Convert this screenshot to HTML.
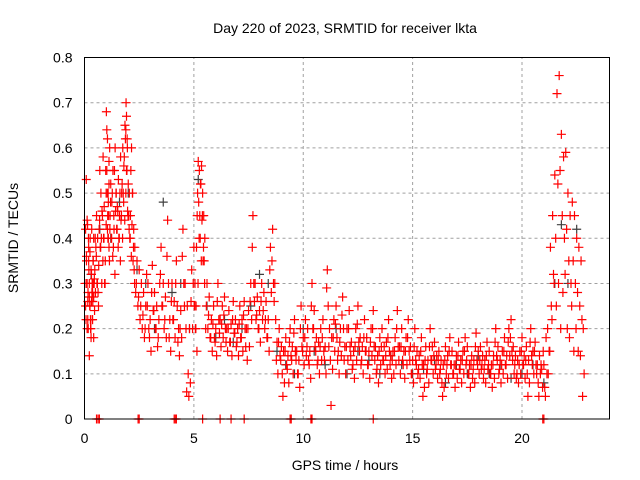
<!DOCTYPE html>
<html><head><meta charset="utf-8"><style>
body{margin:0;background:#fff;}
svg{display:block;font-family:"Liberation Sans",sans-serif;}
</style></head><body>
<svg id="chart" width="640" height="480">
<text x="345" y="33" text-anchor="middle" font-size="14">Day 220 of 2023, SRMTID for receiver lkta</text>
<text x="345" y="470" text-anchor="middle" font-size="14">GPS time / hours</text>
<text x="18" y="238" text-anchor="middle" font-size="14" transform="rotate(-90 18 238)">SRMTID / TECUs</text>
<g id="grid"></g>
<g id="grey"></g>
<g id="red"></g>
<rect x="84.5" y="57.5" width="525" height="361.5" fill="none" stroke="#000"/>
<g id="ticks"></g>
</svg>
<script>
const xTicks=[0,5,10,15,20];
const yTicks=[0,0.1,0.2,0.3,0.4,0.5,0.6,0.7,0.8];
const yTickLabels=["0","0.1","0.2","0.3","0.4","0.5","0.6","0.7","0.8"];
const redT=[0.05,0.08,0.1,0.12,0.15,0.18,0.2,0.22,0.25,0.28,0.3,0.33,0.35,0.38,0.4,0.42,0.45,0.5,0.55,0.6,0.65,0.7,0.75,0.8,0.85,0.9,0.95,1.0,1.02,1.05,1.08,1.1,1.12,1.15,1.2,1.25,1.3,1.35,1.4,1.45,1.5,1.55,1.6,1.65,1.7,1.75,1.8,1.85,1.9,1.92,1.95,2.0,2.05,2.1,2.15,2.2,2.25,2.3,2.4,2.5,2.6,2.7,2.8,2.9,3.0,3.1,3.2,3.3,3.4,3.5,3.6,3.7,3.8,3.9,4.0,4.1,4.2,4.3,4.4,4.5,4.6,4.7,4.8,4.9,5.0,5.05,5.1,5.15,5.2,5.25,5.3,5.35,5.4,5.45,5.5,5.6,5.7,5.8,5.9,6.0,6.1,6.2,6.3,6.4,6.5,6.6,6.7,6.8,6.9,7.0,7.1,7.2,7.3,7.4,7.5,7.6,7.7,7.8,7.9,8.0,8.1,8.2,8.3,8.4,8.5,8.6,8.7,8.8,8.9,9.0,9.1,9.2,9.3,9.4,9.5,9.6,9.7,9.8,9.9,10.0,10.1,10.2,10.3,10.4,10.5,10.6,10.7,10.8,10.9,11.0,11.1,11.2,11.3,11.4,11.5,11.6,11.7,11.8,11.9,12.0,12.1,12.2,12.3,12.4,12.5,12.6,12.7,12.8,12.9,13.0,13.1,13.2,13.3,13.4,13.5,13.6,13.7,13.8,13.9,14.0,14.1,14.2,14.3,14.4,14.5,14.6,14.7,14.8,14.9,15.0,15.1,15.2,15.3,15.4,15.5,15.6,15.7,15.8,15.9,16.0,16.1,16.2,16.3,16.4,16.5,16.6,16.7,16.8,16.9,17.0,17.1,17.2,17.3,17.4,17.5,17.6,17.7,17.8,17.9,18.0,18.1,18.2,18.3,18.4,18.5,18.6,18.7,18.8,18.9,19.0,19.1,19.2,19.3,19.4,19.5,19.6,19.7,19.8,19.9,20.0,20.1,20.2,20.3,20.4,20.5,20.6,20.7,20.8,20.9];
const redA=[0.25,0.53,0.3,0.44,0.22,0.4,0.33,0.27,0.37,0.2,0.18,0.42,0.3,0.26,0.35,0.4,0.31,0.28,0.45,0.4,0.34,0.55,0.5,0.46,0.58,0.47,0.35,0.68,0.64,0.62,0.5,0.45,0.57,0.6,0.52,0.48,0.55,0.42,0.6,0.5,0.47,0.53,0.45,0.58,0.5,0.6,0.56,0.65,0.7,0.67,0.62,0.52,0.5,0.45,0.6,0.5,0.42,0.38,0.35,0.33,0.3,0.28,0.25,0.3,0.22,0.34,0.28,0.25,0.22,0.38,0.3,0.27,0.44,0.22,0.3,0.26,0.35,0.2,0.24,0.42,0.3,0.25,0.2,0.33,0.38,0.3,0.25,0.45,0.57,0.55,0.52,0.56,0.5,0.45,0.4,0.3,0.27,0.22,0.25,0.2,0.3,0.22,0.25,0.27,0.2,0.24,0.21,0.26,0.22,0.2,0.25,0.22,0.26,0.2,0.24,0.3,0.45,0.3,0.27,0.24,0.3,0.28,0.26,0.22,0.38,0.42,0.3,0.17,0.2,0.16,0.15,0.18,0.14,0.2,0.16,0.22,0.15,0.13,0.25,0.18,0.22,0.2,0.15,0.3,0.24,0.18,0.17,0.2,0.22,0.16,0.33,0.2,0.18,0.22,0.25,0.15,0.2,0.27,0.16,0.2,0.24,0.17,0.15,0.2,0.25,0.18,0.16,0.22,0.18,0.15,0.2,0.24,0.16,0.14,0.18,0.2,0.16,0.17,0.22,0.14,0.15,0.18,0.24,0.16,0.2,0.15,0.18,0.22,0.16,0.13,0.2,0.15,0.14,0.18,0.12,0.16,0.13,0.2,0.16,0.17,0.14,0.15,0.13,0.12,0.16,0.14,0.18,0.15,0.12,0.14,0.17,0.13,0.15,0.18,0.16,0.12,0.14,0.13,0.19,0.15,0.16,0.14,0.13,0.17,0.15,0.12,0.14,0.2,0.16,0.13,0.15,0.18,0.14,0.2,0.22,0.16,0.14,0.13,0.15,0.18,0.14,0.16,0.13,0.2,0.15,0.17,0.12,0.14,0.11,0.16,0.13,0.12];
const redB=[0.35,0.2,0.43,0.28,0.38,0.14,0.25,0.4,0.2,0.32,0.28,0.22,0.35,0.18,0.3,0.24,0.4,0.36,0.3,0.25,0.44,0.38,0.3,0.35,0.4,0.3,0.43,0.5,0.45,0.4,0.38,0.35,0.42,0.48,0.4,0.36,0.45,0.32,0.5,0.42,0.38,0.4,0.35,0.45,0.4,0.48,0.44,0.5,0.55,0.6,0.45,0.42,0.4,0.36,0.5,0.38,0.3,0.28,0.25,0.22,0.2,0.18,0.32,0.2,0.15,0.24,0.2,0.16,0.3,0.25,0.2,0.18,0.3,0.15,0.22,0.18,0.25,0.14,0.18,0.3,0.2,0.1,0.08,0.2,0.25,0.2,0.15,0.3,0.4,0.4,0.35,0.45,0.38,0.3,0.2,0.2,0.18,0.15,0.18,0.14,0.22,0.16,0.18,0.2,0.15,0.17,0.14,0.19,0.16,0.14,0.18,0.15,0.2,0.13,0.16,0.22,0.3,0.22,0.2,0.17,0.22,0.2,0.18,0.15,0.28,0.3,0.22,0.1,0.14,0.1,0.08,0.12,0.08,0.14,0.1,0.15,0.1,0.07,0.16,0.12,0.14,0.13,0.09,0.2,0.16,0.12,0.1,0.13,0.15,0.1,0.25,0.13,0.11,0.15,0.18,0.1,0.14,0.2,0.1,0.13,0.16,0.11,0.09,0.13,0.17,0.12,0.1,0.15,0.12,0.09,0.14,0.16,0.1,0.08,0.12,0.13,0.1,0.11,0.15,0.09,0.1,0.12,0.16,0.1,0.13,0.09,0.12,0.15,0.1,0.08,0.13,0.1,0.09,0.12,0.07,0.1,0.08,0.13,0.1,0.11,0.09,0.1,0.08,0.07,0.1,0.09,0.12,0.1,0.07,0.09,0.11,0.08,0.1,0.12,0.1,0.07,0.09,0.08,0.13,0.1,0.11,0.09,0.08,0.11,0.1,0.07,0.09,0.14,0.1,0.08,0.1,0.12,0.09,0.14,0.15,0.1,0.09,0.08,0.1,0.12,0.09,0.1,0.08,0.14,0.1,0.12,0.08,0.1,0.07,0.09,0.06,0.08];
const redC=[0.3,0.42,0.22,0.36,0.3,0.26,0.2,0.35,0.3,0.25,0.22,0.33,0.26,0.22,0.28,0.3,0.27,0.33,0.38,0.3,0.28,0.42,0.38,0.4,0.45,0.4,0.3,0.55,0.5,0.55,0.42,0.4,0.48,0.52,0.45,0.4,0.5,0.38,0.55,0.46,0.42,0.46,0.4,0.5,0.44,0.52,0.5,0.58,0.62,0.64,0.55,0.46,0.45,0.4,0.55,0.43,0.35,0.33,0.3,0.27,0.25,0.23,0.2,0.25,0.18,0.28,0.24,0.2,0.18,0.32,0.25,0.22,0.36,0.18,0.26,0.22,0.3,0.17,0.2,0.36,0.25,0.06,0.05,0.26,0.3,0.25,0.2,0.38,0.5,0.48,0.45,0.52,0.44,0.35,0.35,0.25,0.23,0.18,0.21,0.17,0.26,0.19,0.21,0.23,0.17,0.2,0.17,0.22,0.19,0.17,0.21,0.18,0.23,0.16,0.2,0.26,0.38,0.26,0.23,0.2,0.26,0.24,0.22,0.18,0.33,0.35,0.26,0.13,0.17,0.13,0.05,0.15,0.11,0.17,0.13,0.19,0.13,0.1,0.2,0.15,0.18,0.16,0.12,0.25,0.2,0.15,0.13,0.16,0.18,0.13,0.29,0.16,0.03,0.18,0.21,0.13,0.17,0.23,0.13,0.16,0.2,0.14,0.12,0.16,0.21,0.15,0.13,0.18,0.15,0.12,0.17,0.2,0.13,0.11,0.15,0.16,0.13,0.14,0.18,0.12,0.13,0.15,0.2,0.13,0.16,0.12,0.15,0.18,0.13,0.1,0.16,0.12,0.11,0.15,0.05,0.13,0.11,0.16,0.13,0.14,0.12,0.13,0.11,0.05,0.13,0.12,0.15,0.12,0.1,0.12,0.14,0.11,0.13,0.15,0.13,0.1,0.12,0.11,0.16,0.12,0.13,0.12,0.11,0.14,0.12,0.1,0.12,0.17,0.13,0.11,0.12,0.15,0.12,0.17,0.18,0.13,0.12,0.1,0.12,0.15,0.12,0.13,0.05,0.17,0.12,0.15,0.1,0.05,0.12,0.08,0.14,0.1];
const lateT=[21.0,21.1,21.2,21.3,21.4,21.5,21.6,21.7,21.8,21.9,22.0,22.1,22.2,22.3,22.4,22.5,22.6,22.7,22.8];
const lateA=[0.12,0.18,0.1,0.38,0.45,0.54,0.72,0.76,0.63,0.58,0.59,0.5,0.45,0.48,0.45,0.4,0.38,0.35,0.2];
const lateB=[0.07,0.1,0.15,0.25,0.32,0.4,0.52,0.55,0.45,0.4,0.42,0.35,0.3,0.35,0.3,0.28,0.25,0.22,0.1];
const lateC=[0.15,0.05,0.2,0.15,0.22,0.3,0.25,0.3,0.2,0.28,0.32,0.2,0.18,0.25,0.15,0.2,0.15,0.14,0.05];
const greyT=[0.3,0.7,1.2,1.6,2.0,2.4,2.8,3.2,3.6,4.0,4.4,4.8,5.2,5.6,6.0,6.4,6.8,7.2,7.6,8.0,8.4,8.8,9.2,9.6,10.0,10.5,11.0,11.5,12.0,12.5,13.0,13.5,14.0,14.5,15.0,15.5,16.0,16.5,17.0,17.5,18.0,18.5,19.0,19.5,20.0,20.5,21.0,21.5,21.8,22.1,22.5];
const greyV=[0.32,0.42,0.4,0.48,0.5,0.33,0.3,0.2,0.48,0.28,0.3,0.2,0.53,0.25,0.18,0.22,0.17,0.2,0.25,0.32,0.3,0.15,0.12,0.1,0.2,0.15,0.12,0.2,0.1,0.15,0.13,0.1,0.14,0.12,0.1,0.11,0.13,0.08,0.12,0.1,0.14,0.1,0.12,0.09,0.1,0.12,0.08,0.3,0.43,0.3,0.42];
const zeroT=[0.55,0.62,0.68,2.45,2.5,4.1,4.15,4.2,5.4,6.2,6.7,7.3,9.4,9.45,10.35,10.4,13.2,20.95,21.0];
const X0=84.5,X1=609.5,Y0=419,Y1=57.5,XMAX=24,YMAX=0.8;
const sx=v=>X0+v/XMAX*(X1-X0), sy=v=>Y0-v/YMAX*(Y0-Y1);
const NS="http://www.w3.org/2000/svg";
function mk(tag,attrs,parent){const e=document.createElementNS(NS,tag);for(const k in attrs)e.setAttribute(k,attrs[k]);parent.appendChild(e);return e;}
const grid=document.getElementById('grid'),ticks=document.getElementById('ticks');
xTicks.forEach(t=>{const x=sx(t);
 if(t>0){const g=mk('line',{x1:x,x2:x,y1:Y0,y2:Y1,stroke:'#a0a0a0','stroke-dasharray':'3,3'},grid);}
 const l=mk('text',{x:x,y:Y0+24,'text-anchor':'middle','font-size':14},ticks);l.textContent=t;});
yTicks.forEach((t,i)=>{const y=sy(t);
 if(t>0&&t<YMAX){const g=mk('line',{x1:X0,x2:X1,y1:y,y2:y,stroke:'#a0a0a0','stroke-dasharray':'3,3'},grid);}
 const l=mk('text',{x:X0-12,y:y+5,'text-anchor':'end','font-size':14},ticks);l.textContent=yTickLabels[i];});
function cross(parent,t,v,col){const x=sx(t),y=sy(v);
 const p=mk('path',{d:`M${x-4.5},${y}H${x+4.5}M${x},${y-4.5}V${y+4.5}`,stroke:col,'stroke-width':1.2,fill:'none'},parent);
 
 }
const grey=document.getElementById('grey'),red=document.getElementById('red');
greyT.forEach((t,i)=>cross(grey,t,greyV[i],'#404040'));
function series(T,A,B,C){T.forEach((t,i)=>{
 if(A[i]!==undefined)cross(red,t,A[i],'#ff0000');
 if(B[i]!==undefined)cross(red,t+0.04,B[i],'#ff0000');
 if(C[i]!==undefined)cross(red,t-0.03,C[i],'#ff0000');});}
series(redT,redA,redB,redC);
series(lateT,lateA,lateB,lateC);
zeroT.forEach(t=>cross(red,t,0,'#ff0000'));
</script>
</body></html>
